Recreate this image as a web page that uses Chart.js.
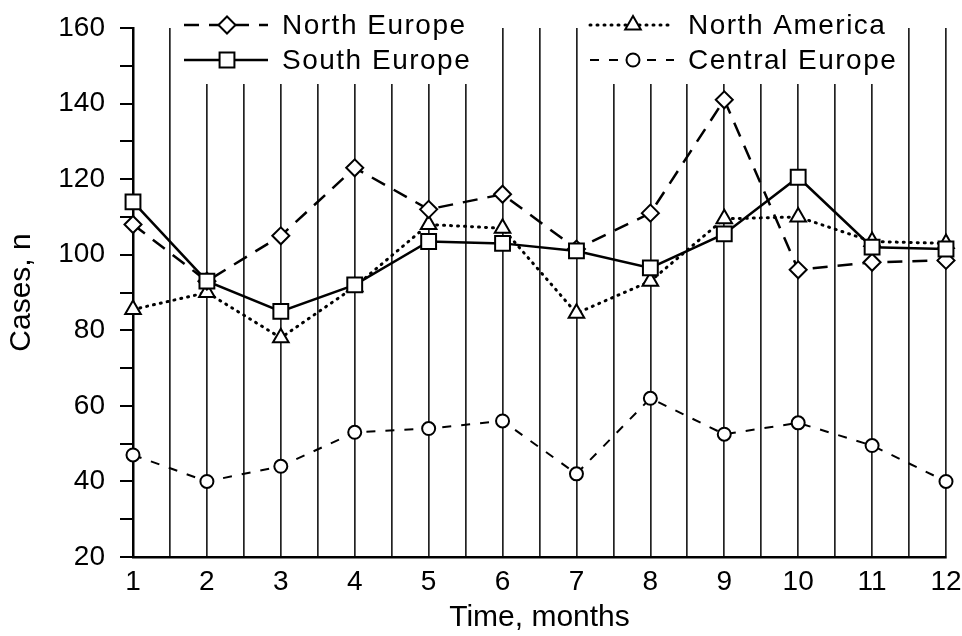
<!DOCTYPE html>
<html>
<head>
<meta charset="utf-8">
<script src="https://cdn.jsdelivr.net/npm/chart.js@4.4.0/dist/chart.umd.min.js"></script>
<style>
  html, body { margin: 0; padding: 0; background: #fff; }
</style>
</head>
<body>
<canvas id="chart" width="962" height="636"></canvas>
<script>
const months = [1, 2, 3, 4, 5, 6, 7, 8, 9, 10, 11, 12];
const northEurope = [108, 93, 105, 123, 112, 116, 101.5, 111, 141, 96, 98, 98.5];
const southEurope = [114, 93, 85, 92, 103.5, 103, 101, 96.5, 105.5, 120.5, 102, 101.5];
const northAmerica = [85.5, 90, 78, 91.5, 108, 107, 84.5, 93, 109.5, 110, 103.5, 103];
const centralEurope = [47, 40, 44, 53, 54, 56, 42, 62, 52.5, 55.5, 49.5, 40];
const yLabelStep = 20;

const FONT = '"Liberation Sans", Arial, Helvetica, sans-serif';

const toPoints = vals => months.map((m, i) => ({ x: m, y: vals[i] }));

// legend drawn inside the plot, over the grid lines
const insideLegend = {
  id: 'insideLegend',
  afterDatasetsDraw(chart, args, opts) {
    const ctx = chart.ctx;
    const top = chart.chartArea.top;
    ctx.save();
    ctx.font = '28px ' + FONT;
    ctx.letterSpacing = '1.5px';
    ctx.textBaseline = 'middle';
    for (const g of opts.groups) {
      const w = Math.max(...g.items.map(i => ctx.measureText(chart.data.datasets[i].label).width));
      ctx.fillStyle = '#fff';
      ctx.fillRect(g.x - 8, top - 4, g.textX + w + 8 - (g.x - 8), opts.boxBottom - top + 4);
      g.items.forEach((idx, row) => {
        const ds = chart.data.datasets[idx];
        const y = opts.rowY[row];
        ctx.strokeStyle = '#000';
        ctx.lineWidth = ds.borderWidth;
        ctx.lineCap = ds.borderCapStyle || 'butt';
        ctx.setLineDash(ds.borderDash || []);
        ctx.beginPath();
        ctx.moveTo(g.x, y);
        ctx.lineTo(g.textX - 14, y);
        ctx.stroke();
        ctx.setLineDash([]);
        ctx.fillStyle = '#fff';
        ctx.lineWidth = ds.pointBorderWidth;
        Chart.helpers.drawPoint(ctx, {
          pointStyle: ds.pointStyle, radius: ds.pointRadius, borderWidth: ds.pointBorderWidth, rotation: 0
        }, g.markX, y);
        ctx.fillStyle = '#000';
        ctx.fillText(ds.label, g.textX, y + 1);
      });
    }
    ctx.restore();
  }
};

const common = {
  borderColor: '#000',
  pointBackgroundColor: '#fff',
  pointBorderColor: '#000',
  pointBorderWidth: 2,
  fill: false,
  tension: 0,
  clip: false
};

new Chart(document.getElementById('chart'), {
  type: 'line',
  data: {
    datasets: [
      { ...common, label: 'South Europe', data: toPoints(southEurope), borderWidth: 2.5,
        pointStyle: 'rect', pointRadius: 10.5 },
      { ...common, label: 'North Europe', data: toPoints(northEurope), borderWidth: 2.5,
        borderDash: [15, 10], pointStyle: 'rectRot', pointRadius: 8.5 },
      { ...common, label: 'North America', data: toPoints(northAmerica), borderWidth: 3,
        borderDash: [1, 6], borderCapStyle: 'round', pointStyle: 'triangle', pointRadius: 9 },
      { ...common, label: 'Central Europe', data: toPoints(centralEurope), borderWidth: 2,
        borderDash: [9, 10], pointStyle: 'circle', pointRadius: 6.5 }
    ]
  },
  options: {
    responsive: false,
    devicePixelRatio: 1,
    animation: false,
    layout: { padding: { top: 28, right: 0, left: 0, bottom: 0 } },
    plugins: {
      legend: { display: false },
      tooltip: { enabled: false },
      insideLegend: {
        rowY: [25, 60],
        boxBottom: 84,
        groups: [
          { items: [1, 0], x: 184, markX: 227, textX: 282 },
          { items: [2, 3], x: 590, markX: 633, textX: 688 }
        ]
      }
    },
    scales: {
      x: {
        type: 'linear',
        min: 1,
        max: 12,
        afterFit: s => { s.height = 79; s.paddingRight = 16; },
        afterBuildTicks: s => {
          const t = [];
          for (let i = 0; i < months.length; i++) {
            t.push({ value: months[i] });
            if (i < months.length - 1) t.push({ value: (months[i] + months[i + 1]) / 2 });
          }
          s.ticks = t;
        },
        ticks: {
          autoSkip: false,
          maxRotation: 0,
          padding: 8,
          color: '#000',
          font: { family: FONT, size: 28 },
          callback: v => (months.includes(v) ? String(v) : '')
        },
        grid: { color: '#222', lineWidth: 1.7, drawTicks: false },
        border: { display: true, color: '#000', width: 2.5 },
        title: {
          display: true, text: 'Time, months', color: '#000',
          font: { family: FONT, size: 30 }, padding: { top: 0, bottom: 0 }
        }
      },
      y: {
        min: 20,
        max: 160,
        afterFit: s => { s.width = 133; s.paddingTop = 0; s.paddingBottom = 0; },
        ticks: {
          stepSize: 10,
          padding: 15,
          color: '#000',
          font: { family: FONT, size: 28 },
          callback: v => (v % yLabelStep === 0 ? String(v) : '')
        },
        grid: { drawOnChartArea: false, drawTicks: true, tickLength: 13, color: '#000', lineWidth: 2 },
        border: { display: true, color: '#000', width: 2.5 },
        title: {
          display: true, text: 'Cases, n', color: '#000',
          font: { family: FONT, size: 30 }, padding: { top: 4, bottom: 0 }
        }
      }
    }
  },
  plugins: [insideLegend]
});
</script>
</body>
</html>
